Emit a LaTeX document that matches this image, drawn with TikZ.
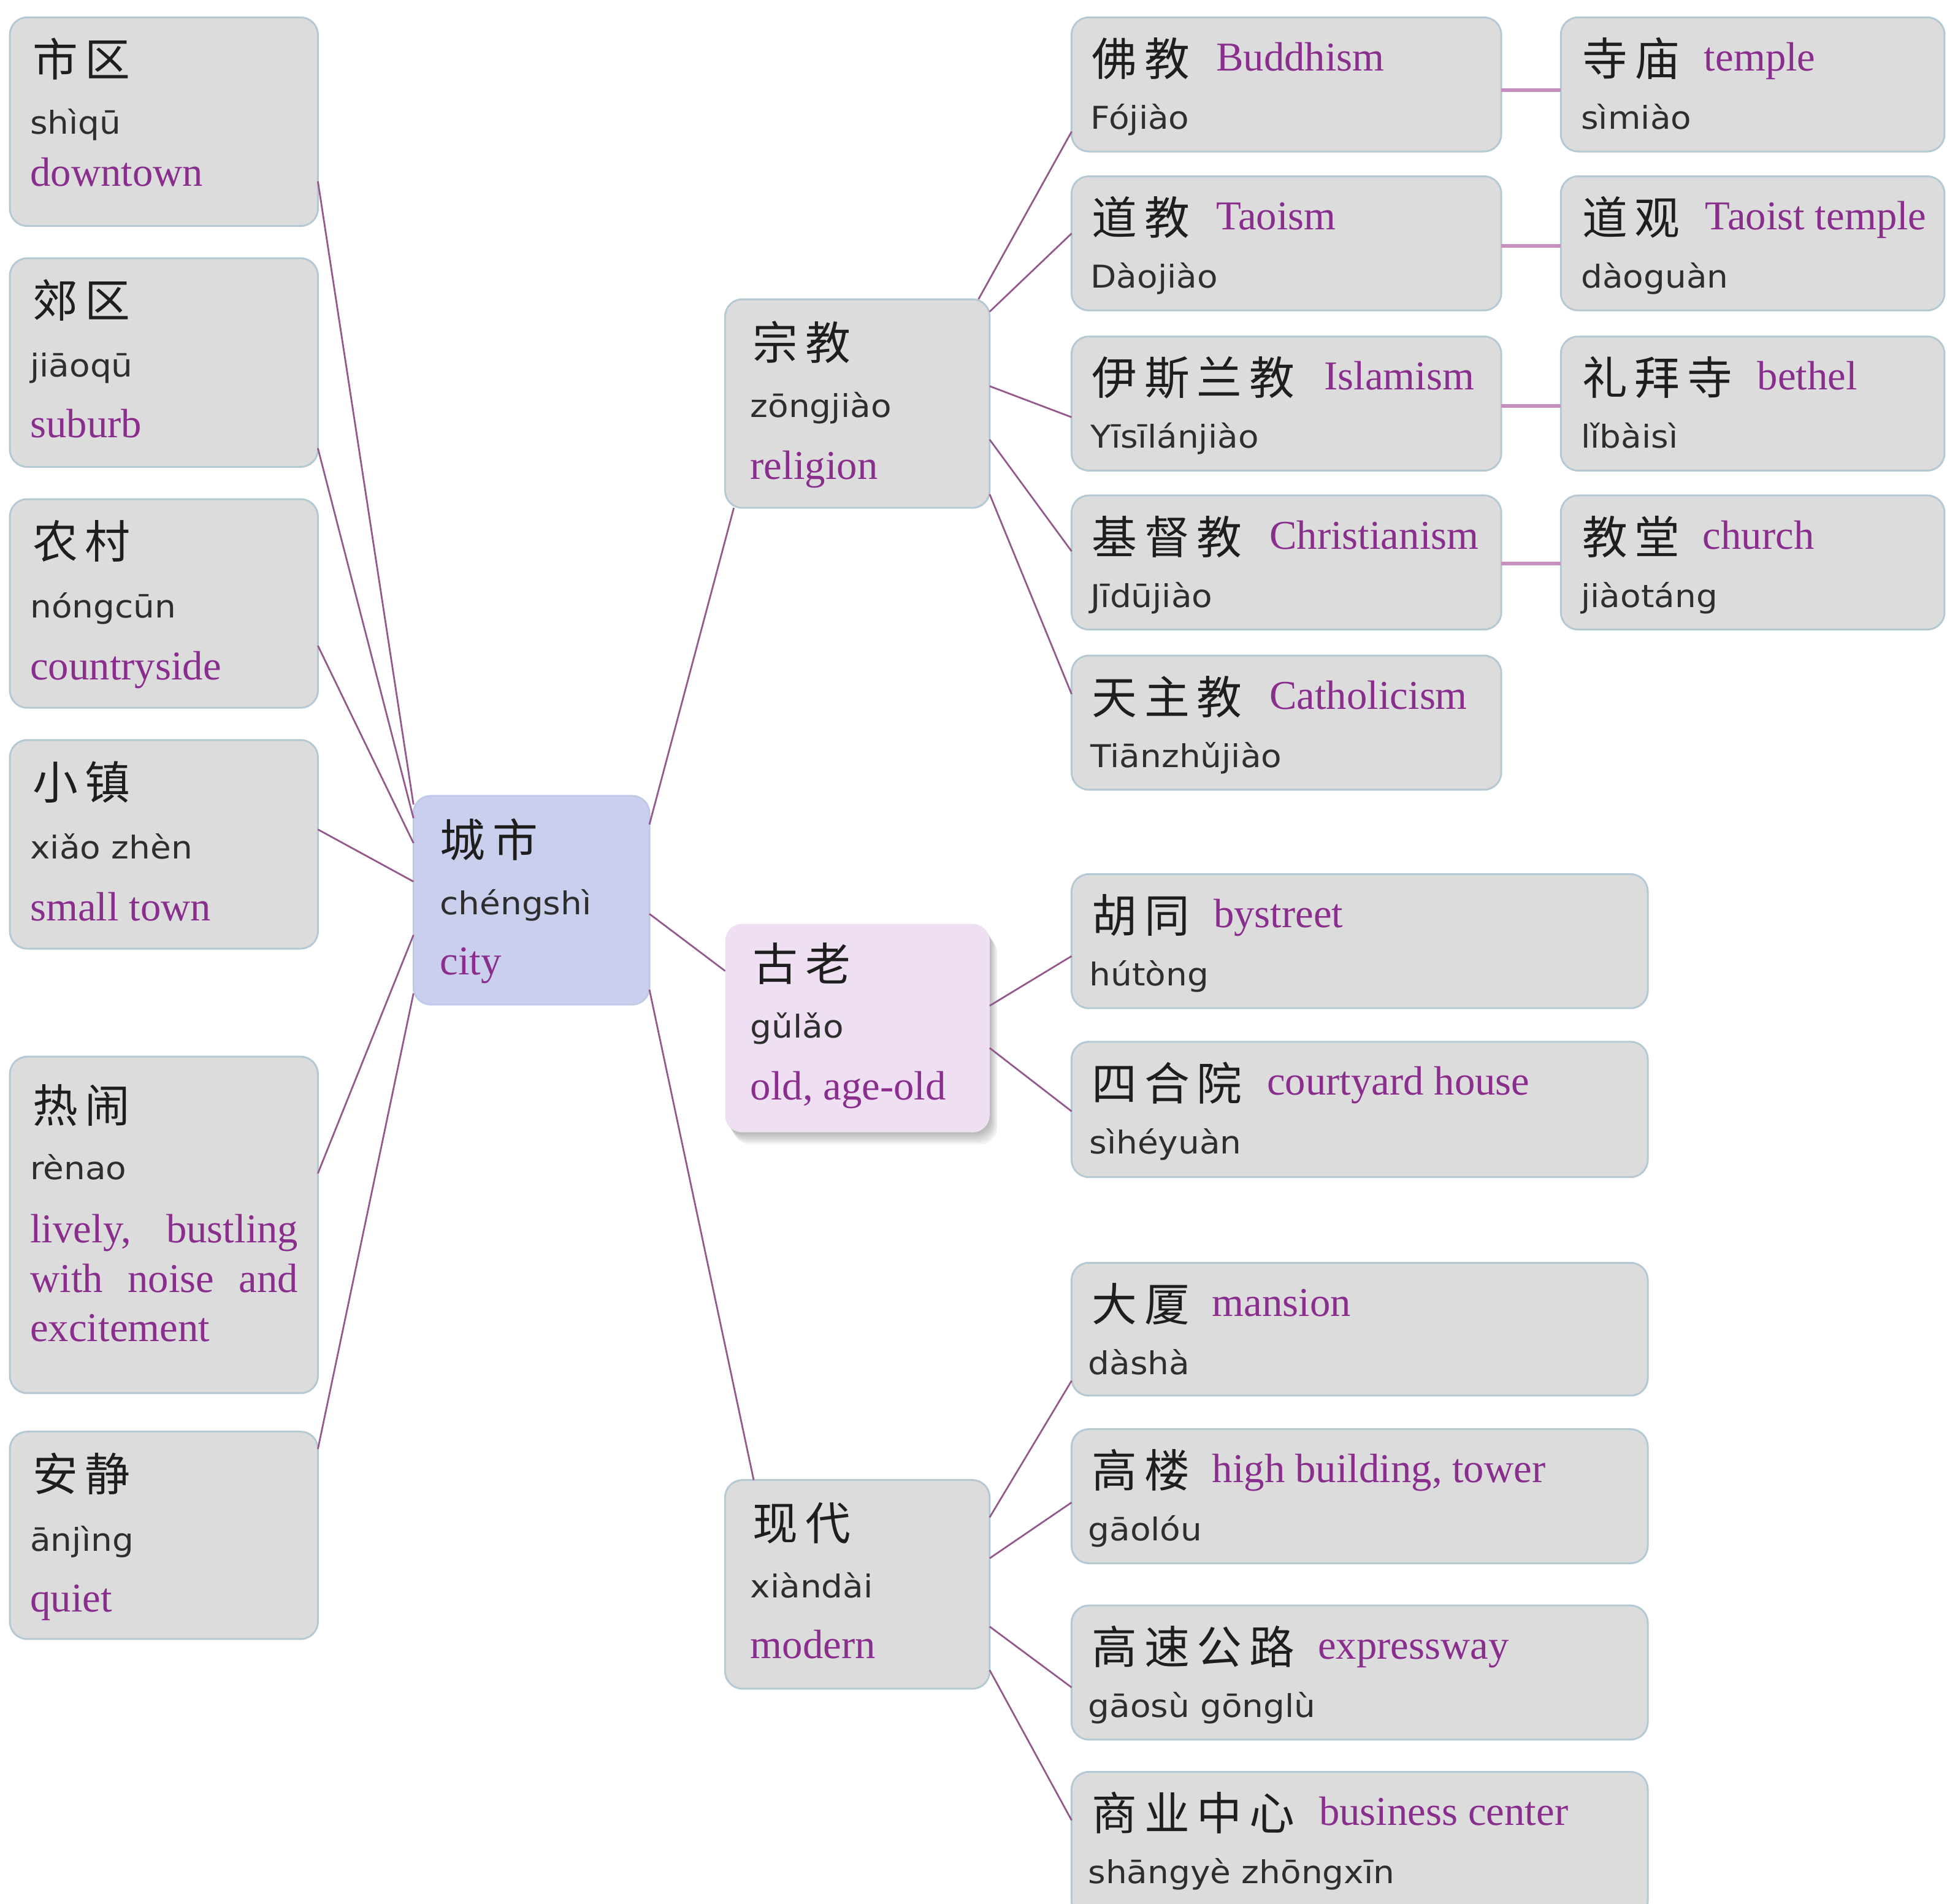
\documentclass[tikz,border=0pt]{standalone}
\usepackage{fontspec}
\setmainfont{Liberation Serif}
\newfontfamily\zhfont[LetterSpace=16]{Noto Sans CJK SC}
\newfontfamily\pyfont[FakeStretch=1.07]{DejaVu Sans}
\usetikzlibrary{fit}
\definecolor{boxfill}{HTML}{DCDCDC}
\definecolor{boxline}{HTML}{B5C9D5}
\definecolor{cityfill}{HTML}{C9CFEC}
\definecolor{cityline}{HTML}{C0CAE8}
\definecolor{oldfill}{HTML}{EEDFF2}
\definecolor{conncol}{HTML}{94588C}
\definecolor{hconncol}{HTML}{C690BE}
\definecolor{entext}{HTML}{8A2E8E}
\definecolor{zhtext}{HTML}{1E1E1E}
\definecolor{pytext}{HTML}{2E2E2E}
\tikzset{
  box/.style={draw=boxline, line width=0.3mm, fill=boxfill, rounded corners=2.8mm, inner sep=0pt, outer sep=0pt},
  citybox/.style={box, draw=cityline, fill=cityfill},
  oldbox/.style={box, draw=none, fill=oldfill},
  zh/.style={font=\zhfont\fontsize{21}{22}\selectfont, text=zhtext, anchor=base west, inner sep=0pt},
  py/.style={font=\pyfont\fontsize{14.6}{16}\selectfont, text=pytext, anchor=base west, inner sep=0pt},
  en/.style={font=\fontsize{19}{20}\selectfont, text=entext, anchor=base west, inner sep=0pt},
  conn/.style={draw=conncol, line width=0.28mm},
  hconn/.style={draw=hconncol, line width=0.6mm}
}
\begin{document}
\begin{tikzpicture}[x=0.2025mm, y=-0.2025mm]
\useasboundingbox (0,0) rectangle (1568,1533);

% ---------- left column ----------
\node[box, fit={(8,14)(256,182)}] (shiqu) {};
\node[zh] (shiqu-zh) at (26,61.5) {市区};
\node[py] (shiqu-py) at (24,108) {shìqū};
\node[en] (shiqu-en) at (24,150) {downtown};

\node[box, fit={(8,208)(256,376)}] (jiaoqu) {};
\node[zh] (jiaoqu-zh) at (26,255.5) {郊区};
\node[py] (jiaoqu-py) at (24,303.5) {jiāoqū};
\node[en] (jiaoqu-en) at (24,352.5) {suburb};

\node[box, fit={(8,402)(256,570)}] (nongcun) {};
\node[zh] (nongcun-zh) at (26,449.5) {农村};
\node[py] (nongcun-py) at (24,497.5) {nóngcūn};
\node[en] (nongcun-en) at (24,547.5) {countryside};

\node[box, fit={(8,596)(256,764)}] (xiaozhen) {};
\node[zh] (xiaozhen-zh) at (26,643.5) {小镇};
\node[py] (xiaozhen-py) at (24,691.5) {xiǎo zhèn};
\node[en] (xiaozhen-en) at (24,741.5) {small town};

\node[box, fit={(8,851)(256,1122)}] (renao) {};
\node[zh] (renao-zh) at (26,904) {热闹};
\node[py] (renao-py) at (24,950) {rènao};
\node[en] (renao-en1) at (24,1001) {\makebox[43.7mm][s]{lively, bustling}};
\node[en] (renao-en2) at (24,1041) {\makebox[43.7mm][s]{with noise and}};
\node[en] (renao-en3) at (24,1080.5) {excitement};

\node[box, fit={(8,1153)(256,1320)}] (anjing) {};
\node[zh] (anjing-zh) at (26,1201) {安静};
\node[py] (anjing-py) at (24,1249) {ānjìng};
\node[en] (anjing-en) at (24,1298) {quiet};

% ---------- centre ----------
\node[citybox, fit={(333,641)(523,809)}] (city) {};
\node[zh] (city-zh) at (354,690) {城市};
\node[py] (city-py) at (354,736.5) {chéngshì};
\node[en] (city-en) at (354,785) {city};

% ---------- middle column ----------
\node[box, fit={(584,241)(797,409)}] (zongjiao) {};
\node[zh] (zongjiao-zh) at (606,289.5) {宗教};
\node[py] (zongjiao-py) at (604,336) {zōngjiào};
\node[en] (zongjiao-en) at (604,386) {religion};

\foreach \i in {1,...,7}
  \fill[black, opacity=0.045, rounded corners=2.8mm] (584+\i*0.9,744+\i*1.4) rectangle (797+\i*0.9,912+\i*1.4);
\node[oldbox, fit={(584,744)(797,912)}] (gulao) {};
\node[zh] (gulao-zh) at (606,790) {古老};
\node[py] (gulao-py) at (604,836) {gǔlǎo};
\node[en] (gulao-en) at (604,885.5) {old, age-old};

\node[box, fit={(584,1192)(797,1360)}] (xiandai) {};
\node[zh] (xiandai-zh) at (606,1240.5) {现代};
\node[py] (xiandai-py) at (604,1286.5) {xiàndài};
\node[en] (xiandai-en) at (604,1335.5) {modern};

% ---------- religions ----------
\node[box, fit={(863,14)(1209,122)}] (fojiao) {};
\node[zh] (fojiao-zh) at (879,61) {佛教};
\node[en] (fojiao-en) at (979,57) {Buddhism};
\node[py] (fojiao-py) at (878,104) {Fójiào};

\node[box, fit={(863,142)(1209,250)}] (daojiao) {};
\node[zh] (daojiao-zh) at (879,189) {道教};
\node[en] (daojiao-en) at (979,185) {Taoism};
\node[py] (daojiao-py) at (878,232) {Dàojiào};

\node[box, fit={(863,271)(1209,379)}] (yisilan) {};
\node[zh] (yisilan-zh) at (879,318) {伊斯兰教};
\node[en] (yisilan-en) at (1066,314) {Islamism};
\node[py] (yisilan-py) at (878,361) {Yīsīlánjiào};

\node[box, fit={(863,399)(1209,507)}] (jidu) {};
\node[zh] (jidu-zh) at (879,446) {基督教};
\node[en] (jidu-en) at (1022,442) {Christianism};
\node[py] (jidu-py) at (878,489) {Jīdūjiào};

\node[box, fit={(863,528)(1209,636)}] (tianzhu) {};
\node[zh] (tianzhu-zh) at (879,575) {天主教};
\node[en] (tianzhu-en) at (1022,571) {Catholicism};
\node[py] (tianzhu-py) at (878,618) {Tiānzhǔjiào};

% ---------- places of worship ----------
\node[box, fit={(1257,14)(1566,122)}] (simiao) {};
\node[zh] (simiao-zh) at (1274,61) {寺庙};
\node[en] (simiao-en) at (1372,57) {temple};
\node[py] (simiao-py) at (1273,104) {sìmiào};

\node[box, fit={(1257,142)(1566,250)}] (daoguan) {};
\node[zh] (daoguan-zh) at (1274,189) {道观};
\node[en] (daoguan-en) at (1373,185) {Taoist temple};
\node[py] (daoguan-py) at (1273,232) {dàoguàn};

\node[box, fit={(1257,271)(1566,379)}] (libaisi) {};
\node[zh] (libaisi-zh) at (1274,318) {礼拜寺};
\node[en] (libaisi-en) at (1415,314) {bethel};
\node[py] (libaisi-py) at (1273,361) {lǐbàisì};

\node[box, fit={(1257,399)(1566,507)}] (jiaotang) {};
\node[zh] (jiaotang-zh) at (1274,446) {教堂};
\node[en] (jiaotang-en) at (1371,442) {church};
\node[py] (jiaotang-py) at (1273,489) {jiàotáng};

% ---------- old ----------
\node[box, fit={(863,704)(1327,812)}] (hutong) {};
\node[zh] (hutong-zh) at (879,751) {胡同};
\node[en] (hutong-en) at (977,747) {bystreet};
\node[py] (hutong-py) at (877,794) {hútòng};

\node[box, fit={(863,839)(1327,948)}] (siheyuan) {};
\node[zh] (siheyuan-zh) at (879,886) {四合院};
\node[en] (siheyuan-en) at (1020,882) {courtyard house};
\node[py] (siheyuan-py) at (877,929) {sìhéyuàn};

% ---------- modern ----------
\node[box, fit={(863,1017)(1327,1124)}] (dasha) {};
\node[zh] (dasha-zh) at (879,1064) {大厦};
\node[en] (dasha-en) at (976,1060) {mansion};
\node[py] (dasha-py) at (876,1107) {dàshà};

\node[box, fit={(863,1151)(1327,1259)}] (gaolou) {};
\node[zh] (gaolou-zh) at (879,1198) {高楼};
\node[en] (gaolou-en) at (976,1194) {high building, tower};
\node[py] (gaolou-py) at (876,1241) {gāolóu};

\node[box, fit={(863,1293)(1327,1401)}] (gaosu) {};
\node[zh] (gaosu-zh) at (879,1340) {高速公路};
\node[en] (gaosu-en) at (1061,1336) {expressway};
\node[py] (gaosu-py) at (876,1383) {gāosù gōnglù};

\node[box, fit={(863,1427)(1327,1545)}] (shangye) {};
\node[zh] (shangye-zh) at (879,1474) {商业中心};
\node[en] (shangye-en) at (1062,1470) {business center};
\node[py] (shangye-py) at (876,1517) {shāngyè zhōngxīn};

% ---------- connectors ----------
\draw[conn] (shiqu.east |- 0,146) -- (city.west |- 0,648);
\draw[conn] (jiaoqu.east |- 0,361) -- (city.west |- 0,659);
\draw[conn] (nongcun.east |- 0,520) -- (city.west |- 0,679);
\draw[conn] (xiaozhen.east |- 0,668) -- (city.west |- 0,710);
\draw[conn] (renao.east |- 0,945) -- (city.west |- 0,753);
\draw[conn] (anjing.east |- 0,1167) -- (city.west |- 0,800);

\draw[conn] (city.east |- 0,664) -- (zongjiao.south -| 591,0);
\draw[conn] (city.east |- 0,736) -- (gulao.west |- 0,782);
\draw[conn] (city.east |- 0,797) -- (xiandai.north -| 607,0);

\draw[conn] (zongjiao.north -| 788,0) -- (fojiao.west |- 0,106);
\draw[conn] (zongjiao.east |- 0,251) -- (daojiao.west |- 0,188);
\draw[conn] (zongjiao.east |- 0,311) -- (yisilan.west |- 0,336);
\draw[conn] (zongjiao.east |- 0,354) -- (jidu.west |- 0,444);
\draw[conn] (zongjiao.east |- 0,398) -- (tianzhu.west |- 0,559);

\draw[hconn] (fojiao.east |- 0,72.6) -- (simiao.west |- 0,72.6);
\draw[hconn] (daojiao.east |- 0,198) -- (daoguan.west |- 0,198);
\draw[hconn] (yisilan.east |- 0,327) -- (libaisi.west |- 0,327);
\draw[hconn] (jidu.east |- 0,454) -- (jiaotang.west |- 0,454);

\draw[conn] (gulao.east |- 0,810) -- (hutong.west |- 0,770);
\draw[conn] (gulao.east |- 0,844) -- (siheyuan.west |- 0,895);

\draw[conn] (xiandai.east |- 0,1222) -- (dasha.west |- 0,1112);
\draw[conn] (xiandai.east |- 0,1255) -- (gaolou.west |- 0,1210);
\draw[conn] (xiandai.east |- 0,1310) -- (gaosu.west |- 0,1359);
\draw[conn] (xiandai.east |- 0,1345) -- (shangye.west |- 0,1466);
\end{tikzpicture}
\end{document}
